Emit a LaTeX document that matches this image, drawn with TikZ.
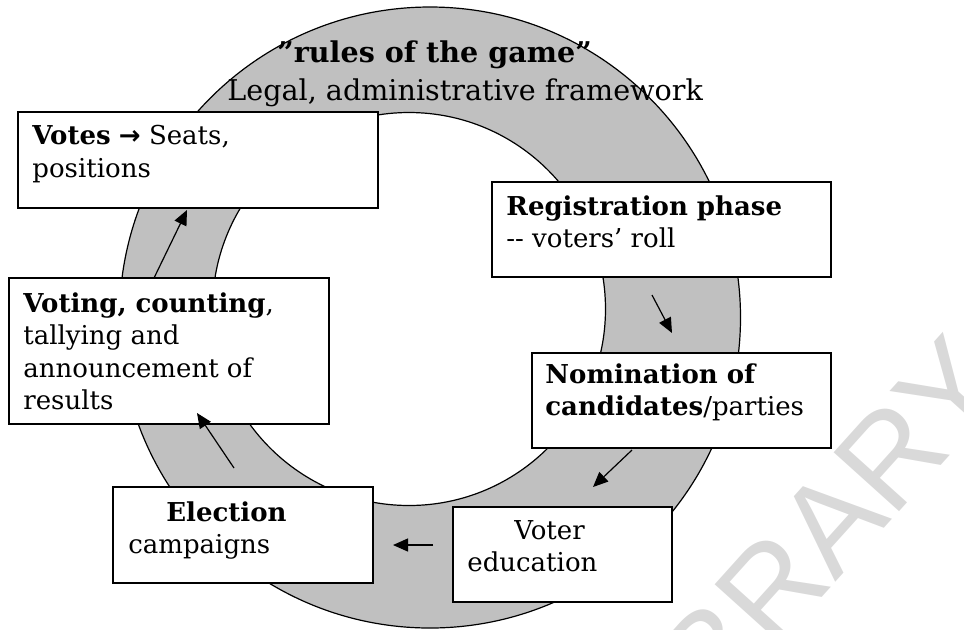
\documentclass[tikz,border=0pt]{standalone}
\usepackage{fontspec}
\setmainfont{DejaVu Serif}
\newfontfamily\symfont{DejaVu Sans}
\newfontfamily\markfont{Liberation Sans}
\usetikzlibrary{arrows.meta}
\definecolor{ringgray}{HTML}{C0C0C0}
\definecolor{markgray}{HTML}{D9D9D9}
\newcommand{\fatarrow}{{\symfont\bfseries →}}
\begin{document}
\begin{tikzpicture}[x=0.5pt,y=-0.5pt,
  box/.style={draw=black, fill=white, line width=0.7pt, inner sep=0pt, outer sep=0pt},
  boxtext/.style={anchor=north west, inner sep=0pt, align=left, font=\fontsize{13}{16.25}\selectfont},
  titletext/.style={anchor=base west, inner sep=0pt, font=\fontsize{14.3}{19}\selectfont},
  flow/.style={line width=0.6pt, -{Triangle[length=7.5pt,width=6.5pt]}},
  ring/.style={draw=black, line width=0.6pt}]
\useasboundingbox (0,0) rectangle (964,629);
% faint watermark
\begin{scope}
  \clip (0,0) rectangle (964,629);
  \node[rotate=48, text=markgray, inner sep=0pt, font=\markfont\fontsize{64}{64}\selectfont] (mark) at (795,562) {LIBRARY};
\end{scope}
% the cycle ring
\path[ring, fill=ringgray] (430,317.5) circle[radius=310.5];
\path[ring, fill=white] (409,309) circle[radius=196.5];
% heading on the ring
\node[titletext] (rules) at (277,62) {\textbf{''rules of the game''}};
\node[titletext] (legal) at (227,100) {Legal, administrative framework};
% stage boxes
\node[box, minimum width=180pt, minimum height=48pt] (votes) at (198,160) {};
\node[box, minimum width=160pt, minimum height=73pt] (voting) at (169,351) {};
\node[box, minimum width=130pt, minimum height=48pt] (elect) at (243,535) {};
\node[box, minimum width=109.5pt, minimum height=47.5pt] (voter) at (562.5,554.5) {};
\node[box, minimum width=169.5pt, minimum height=47.5pt] (reg) at (661.5,229.5) {};
\node[box, minimum width=149.5pt, minimum height=47.5pt] (nom) at (681.5,400.5) {};
% stage texts
\node[boxtext] (votesT) at (32,125) {\textbf{Votes} \fatarrow{} Seats,\\positions};
\node[boxtext] (votingT) at (23,292) {\textbf{Voting, counting},\\tallying and\\announcement of\\results};
\node[boxtext] (electT) at (128,501) {\hspace{19pt}\textbf{Election}\\campaigns};
\node[boxtext] (voterT) at (467,520) {\hspace{23.5pt}Voter\\education};
\node[boxtext] (regT) at (506,195) {\textbf{Registration phase}\\-{}- voters' roll};
\node[boxtext] (nomT) at (545,363) {\textbf{Nomination of}\\\textbf{candidates}/parties};
% flow arrows between stages
\coordinate (a1s) at (652,295); \coordinate (a1e) at (672,333);
\coordinate (a2s) at (632,450); \coordinate (a2e) at (593,487);
\coordinate (a3s) at (433,545); \coordinate (a3e) at (393,545);
\coordinate (a4s) at (234,468); \coordinate (a4e) at (197,413);
\coordinate (a5s) at (154,278); \coordinate (a5e) at (187,210);
\draw[flow] (a1s) -- (a1e);
\draw[flow] (a2s) -- (a2e);
\draw[flow] (a3s) -- (a3e);
\draw[flow] (a4s) -- (a4e);
\draw[flow] (a5s) -- (a5e);
\end{tikzpicture}
\end{document}
